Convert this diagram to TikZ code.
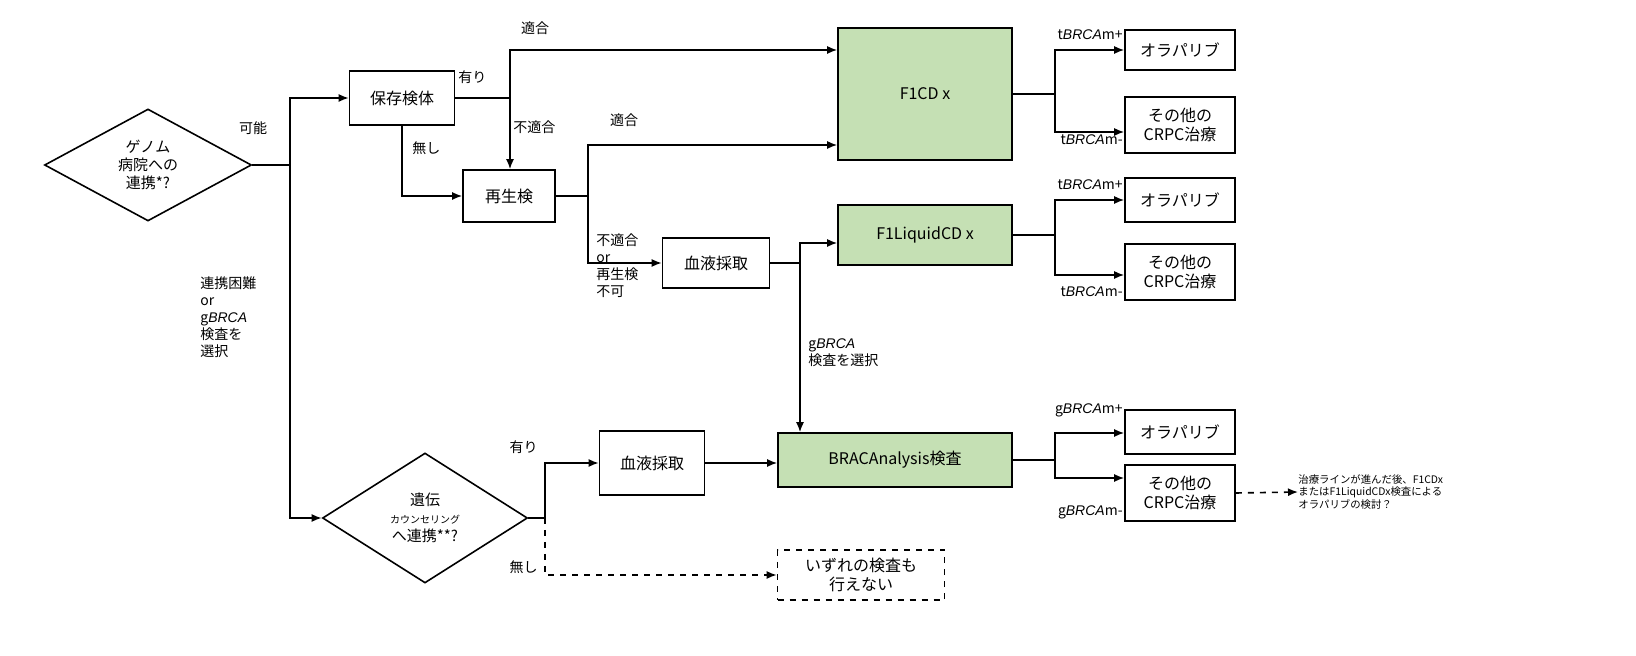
\documentclass[tikz,border=0pt]{standalone}
\usepackage{fontspec}
\setmainfont{Noto Sans CJK JP}
\newfontfamily\latf{Liberation Sans}
\newcommand{\brca}{{\latf\itshape BRCA}}
\usetikzlibrary{shapes.geometric,arrows.meta}
\begin{document}
\begin{tikzpicture}[x=0.5pt,y=-0.5pt,
  box/.style={draw,line width=0.8pt,minimum width=#1*0.5pt,inner sep=1pt,font=\fontsize{8}{9.5}\selectfont,align=center},
  box/.default=105,
  dia/.style={draw,line width=0.8pt,diamond,aspect=1.8,inner sep=0pt,font=\fontsize{7.5}{9}\selectfont,align=center},
  lab/.style={font=\fontsize{7}{8.5}\selectfont,align=left,inner sep=0pt},
  ln/.style={line width=0.8pt},
  ar/.style={ln,-{Latex[length=5pt,width=4pt]}},
  dar/.style={ar,dashed}]
\useasboundingbox (0,0) rectangle (1636,656);
\definecolor{gfill}{HTML}{C5E0B4}
% left diamond
\node[dia,minimum width=207*0.5pt,minimum height=112*0.5pt] (d1) at (148,165) {ゲノム\\病院への\\連携*?};
\coordinate (j1) at (290,165);
\node[box=105,minimum height=27pt] (hozon) at (402,98) {保存検体};
\node[box=92,minimum height=26pt] (sai) at (509,196) {再生検};
\node[box=174,minimum height=66pt,fill=gfill] (f1) at (925,94) {F1CD x};
\node[box=107,minimum height=25pt] (ket1) at (716,263) {血液採取};
\node[box=174,minimum height=30pt,fill=gfill] (f1l) at (925,235) {F1LiquidCD x};
\node[box=234,minimum height=27pt,fill=gfill] (brac) at (895,460) {BRACAnalysis検査};
\node[box=105,minimum height=32pt] (ket2) at (652,463) {血液採取};
\node[dia,minimum width=205*0.5pt,minimum height=130*0.5pt] (d2) at (425,518) {遺伝\\{\fontsize{5}{6}\selectfont カウンセリング}\\へ連携**?};
\node[box=167,minimum height=25pt,dashed] (none) at (861,575) {いずれの検査も\\行えない};
% right boxes
\node[box=110,minimum height=20pt] (o1) at (1180,50) {オラパリブ};
\node[box=110,minimum height=28pt] (s1) at (1180,125) {その他の\\CRPC治療};
\node[box=110,minimum height=22pt] (o2) at (1180,200) {オラパリブ};
\node[box=110,minimum height=28pt] (s2) at (1180,272) {その他の\\CRPC治療};
\node[box=110,minimum height=22pt] (o3) at (1180,432) {オラパリブ};
\node[box=110,minimum height=28pt] (s3) at (1180,493) {その他の\\CRPC治療};
\node[lab,anchor=west,font=\fontsize{5.2}{6.2}\selectfont] (note) at (1298,492) {治療ラインが進んだ後、F1CDx\\またはF1LiquidCDx検査による\\オラパリブの検討？};
% connectors
\draw[ln] (d1.east) -- (j1);
\draw[ar] (j1) |- (hozon.west);
\draw[ar] (j1) |- (d2.west);
\draw[ar] (hozon.east) -- (510,98) |- (f1.west |- 0,50);
\draw[ar] (510,98) -- (sai.north -| 510,0);
\draw[ar] (hozon.south) |- (sai.west);
\draw[ln] (sai.east) -- (588,196);
\draw[ar] (588,196) |- (f1.west |- 0,145);
\draw[ar] (588,196) |- (ket1.west);
\draw[ln] (ket1.east) -- (800,263);
\draw[ar] (800,263) |- (f1l.west |- 0,243);
\draw[ar] (800,263) -- (brac.north -| 800,0);
\draw[ln] (d2.east) -- (545,518);
\draw[ar] (545,518) |- (ket2.west);
\draw[dar] (545,518) |- (none.west);
\draw[ar] (ket2.east) -- (brac.west |- ket2.east);
\foreach \s/\a/\b/\ya/\yb in {f1/o1/s1/50/132, f1l/o2/s2/200/275, brac/o3/s3/433/478}{
  \draw[ln] (\s.east) -- (\s.east -| 1055,0);
  \draw[ar] (\s.east -| 1055,0) |- (\a.west |- 0,\ya);
  \draw[ar] (\s.east -| 1055,0) |- (\b.west |- 0,\yb);
}
\draw[dar] (s3.east) -- (note.west);
% labels
\node[lab] at (253,128) {可能};
\node[lab,anchor=west] at (458,77) {有り};
\node[lab] at (535,28) {適合};
\node[lab,anchor=west] at (513,127) {不適合};
\node[lab] at (624,120) {適合};
\node[lab,anchor=west] at (412,148) {無し};
\node[lab,anchor=north west] at (596,233) {不適合\\or\\再生検\\不可};
\node[lab,anchor=north west] at (200,276) {連携困難\\or\\g\brca\\検査を\\選択};
\node[lab,anchor=north west] at (808,338) {g\brca\\検査を選択};
\node[lab,anchor=east] at (538,447) {有り};
\node[lab,anchor=east] at (538,567) {無し};
\foreach \y/\t in {35/t\brca m+,140/t\brca m-,185/t\brca m+,292/t\brca m-,410/g\brca m+,512/g\brca m-}
  \node[lab,anchor=east] at (1123,\y) {\t};
\end{tikzpicture}
\end{document}
